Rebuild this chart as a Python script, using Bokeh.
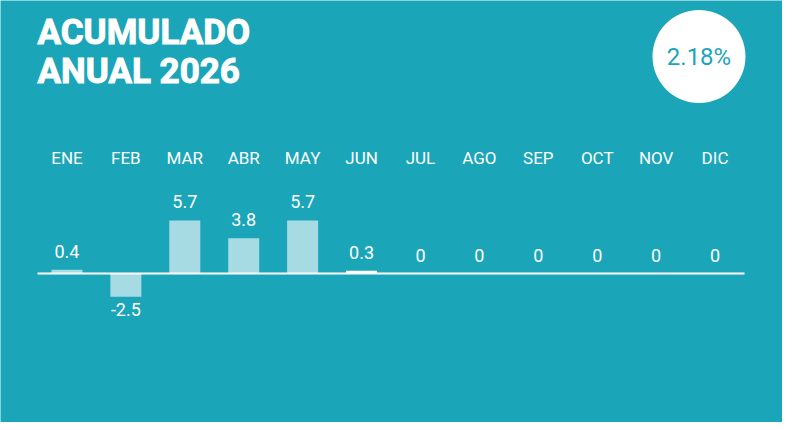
from bokeh.plotting import figure
from bokeh.models import ColumnDataSource, Range1d
from bokeh.embed import file_html
from bokeh.resources import INLINE
from bokeh.core.properties import value

# ---- data ----
months = ["ENE", "FEB", "MAR", "ABR", "MAY", "JUN", "JUL", "AGO", "SEP", "OCT", "NOV", "DIC"]
values = [0.4, -2.5, 5.7, 3.8, 5.7, 0.3, 0, 0, 0, 0, 0, 0]
value_labels = ["0.4", "-2.5", "5.7", "3.8", "5.7", "0.3", "0", "0", "0", "0", "0", "0"]
highlight_month = "JUN"
title_lines = ["ACUMULADO", "ANUAL 2026"]
total_label = "2.18%"

# ---- style / layout ----
BG = "#1ba5b8"
BAR = "#a6dbe3"
HILITE = "#ffffff"
FIG_LEFT, FIG_TOP = 8, 8
FIG_W, FIG_H = 782, 422
FRAME_L, FRAME_R = 45, 752      # page x of the month band
ZERO_Y = 281                    # page y of the zero line
PX_PER_UNIT = 9.3

n = len(months)
ymax = (ZERO_Y - FIG_TOP) / PX_PER_UNIT
ymin = ymax - FIG_H / PX_PER_UNIT


def xd(px):
    return (px - FRAME_L) / (FRAME_R - FRAME_L) * n


def yd(py):
    return ymax - (py - FIG_TOP) / PX_PER_UNIT


p = figure(width=FIG_W, height=FIG_H, output_backend="svg", toolbar_location=None,
           x_range=Range1d(xd(FIG_LEFT), xd(FIG_LEFT + FIG_W)),
           y_range=Range1d(ymin, ymax),
           x_axis_location=None, y_axis_location=None,
           min_border=0, min_border_left=0, min_border_right=0,
           min_border_top=0, min_border_bottom=0,
           background_fill_color=BG, border_fill_color=BG,
           outline_line_color=None)
p.xgrid.visible = False
p.ygrid.visible = False

centers = [i + 0.5 for i in range(n)]
colors = [HILITE if m == highlight_month else BAR for m in months]
src = ColumnDataSource(dict(x=centers, v=values, color=colors, label=value_labels, month=months))

bar_w = 31 / ((FRAME_R - FRAME_L) / n)
p.vbar(x="x", top="v", bottom=0, width=bar_w, source=src, fill_color="color", line_color=None)

# zero line
p.segment(x0=[0], y0=[0], x1=[n], y1=[0], line_color="white", line_width=2)

# value labels
pos = [i for i, v in enumerate(values) if v >= 0]
neg = [i for i, v in enumerate(values) if v < 0]
p.text(x=[centers[i] for i in pos], y=[values[i] for i in pos], text=[value_labels[i] for i in pos],
       y_offset=-18.5, text_align="center", text_baseline="middle", text_color="white",
       text_font=value("Roboto"), text_font_size="18px")
p.text(x=[centers[i] for i in neg], y=[values[i] for i in neg], text=[value_labels[i] for i in neg],
       y_offset=13, text_align="center", text_baseline="middle", text_color="white",
       text_font=value("Roboto"), text_font_size="18px")

# month labels
p.text(x=centers, y=[yd(165)] * n, text=months, text_align="center", text_baseline="middle",
       text_color="white", text_font=value("Roboto"), text_font_size="17px")

# title
p.text(x=[xd(45)] * 2, y=[yd(40), yd(78.5)], text=title_lines, text_align="left",
       text_baseline="middle", text_color="white", text_font=value("Roboto"),
       text_font_style="bold", text_font_size="35px", text_outline_color="white")

# total badge
p.scatter(x=[xd(706.5)], y=[yd(64)], size=93, marker="circle", fill_color="white", line_color=None)
p.text(x=[xd(706.5)], y=[yd(64)], text=[total_label], text_align="center", text_baseline="middle",
       text_color=BG, text_font=value("Roboto"), text_font_size="24px")

open("out.html", "w").write(file_html(p, INLINE))
